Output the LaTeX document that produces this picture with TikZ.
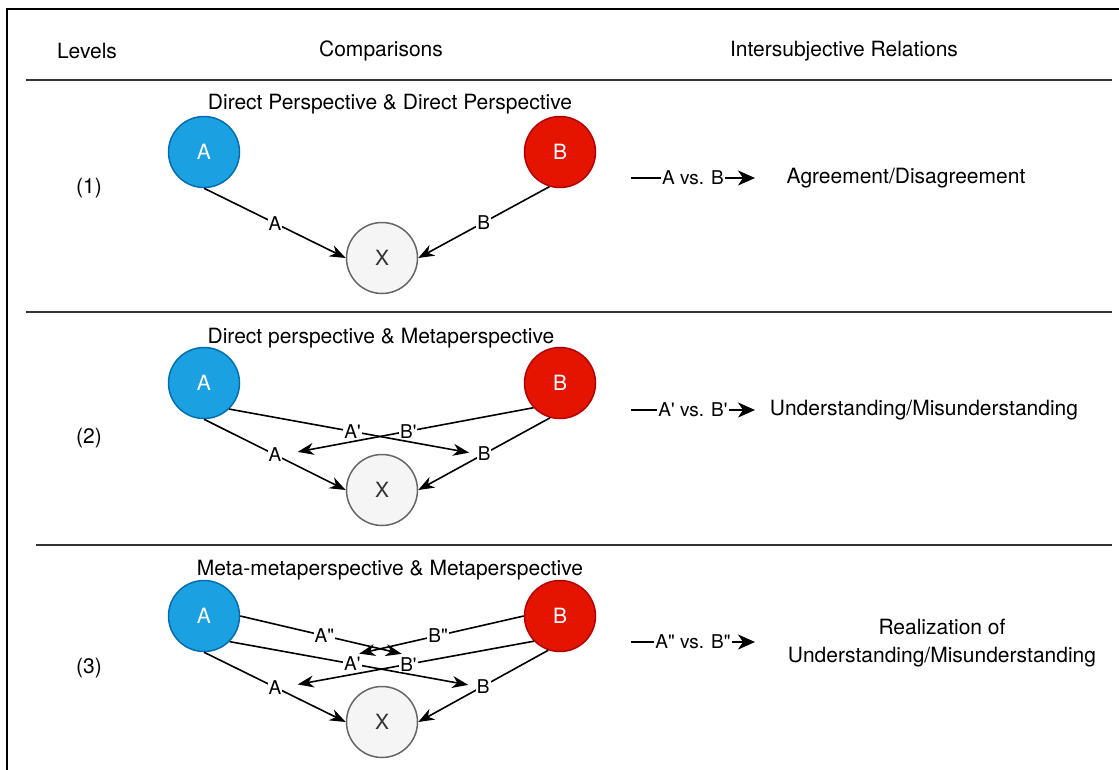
\documentclass[tikz,border=0pt]{standalone}
\usepackage{fontspec}
\setmainfont{TeX Gyre Heros}
\usetikzlibrary{arrows.meta}

\definecolor{fillA}{HTML}{1BA1E2}
\definecolor{drawA}{HTML}{006EAF}
\definecolor{fillB}{HTML}{E51400}
\definecolor{drawB}{HTML}{B20000}
\definecolor{fillX}{HTML}{F5F5F5}
\definecolor{drawX}{HTML}{666666}

\begin{document}
\begin{tikzpicture}[x=1pt, y=-1pt,
	every node/.style={font=\fontsize{21}{28}\selectfont},
	persA/.style={circle, draw=drawA, fill=fillA, line width=1.5pt, minimum size=71pt, inner sep=0pt, text=white},
	persB/.style={circle, draw=drawB, fill=fillB, line width=1.5pt, minimum size=71pt, inner sep=0pt, text=white},
	objX/.style={circle, draw=drawX, fill=fillX, line width=1.5pt, minimum size=71pt, inner sep=0pt, text=black!80},
	lbl/.style={fill=white, inner sep=1pt, font=\fontsize{19}{22}\selectfont},
	link/.style={-{Stealth[length=16pt, width=12pt, inset=5pt]}, line width=1.6pt},
	tolbl/.style={link, shorten >=7pt},
	relarr/.style={-{Stealth[length=17pt, width=15pt, inset=5pt]}, line width=1.6pt},
	sep/.style={line width=2pt, black!80}]
	\useasboundingbox (0,0) rectangle (1119,769);
	\draw[line width=2pt] (7,790) -- (7,9) -- (1130,9);

	\node (levels) at (87,51) {Levels};
	\node (comp) at (381,51) {Comparisons};
	\node (inter) at (844,51) {Intersubjective Relations};

	\draw[sep] (26,80) -- (1112,80);
	\draw[sep] (26,312) -- (1112,312);
	\draw[sep] (36,545) -- (1112,545);

	\node (lev1) at (89,188) {(1)};
	\node (lev2) at (89,438) {(2)};
	\node (lev3) at (89,668) {(3)};

	\node (t1) at (390,104) {Direct Perspective \& Direct Perspective};
	\node[persA] (A1) at (204,152) {A};
	\node[persB] (B1) at (560,152) {B};
	\node[objX] (X1) at (382,258) {X};
	\draw[link] (A1.south) -- node[lbl] (a1) {A} (X1.west);
	\draw[link] (B1.-107) -- node[lbl] (b1) {B} (X1.east);

	\node (t2) at (381,338) {Direct perspective \& Metaperspective};
	\node[persA] (A2) at (204,383) {A};
	\node[persB] (B2) at (560,383) {B};
	\node[objX] (X2) at (382,490) {X};
	\draw[link] (A2.south) -- node[lbl] (a2) {A} (X2.west);
	\draw[link] (B2.-106) -- node[lbl] (b2) {B} (X2.east);
	\draw[tolbl] (A2.-46) -- node[lbl] (ap2) {A\textquotesingle} (b2.west);
	\draw[tolbl, shorten >=15pt] (B2.-137) -- node[lbl] (bp2) {B\textquotesingle} (a2.east);

	\node (t3) at (390,570) {Meta-metaperspective \& Metaperspective};
	\node[persA] (A3) at (204,616) {A};
	\node[persB] (B3) at (560,616) {B};
	\node[objX] (X3) at (382,722) {X};
	\draw[link] (A3.south) -- node[lbl] (a3) {A} (X3.west);
	\draw[link] (B3.-109) -- node[lbl] (b3) {B} (X3.east);
	\draw[tolbl] (A3.-45) -- node[lbl] (ap3) {A\textquotesingle} (b3.west);
	\draw[tolbl, shorten >=15pt] (B3.-136) -- node[lbl] (bp3) {B\textquotesingle} (a3.east);
	\draw[tolbl] (A3.east) -- node[lbl] (app3) {A\textquotedbl} (bp3.north);
	\draw[tolbl] (B3.west) -- node[lbl] (bpp3) {B\textquotedbl} (ap3.north);

	\coordinate (s1) at (631,178);
	\coordinate (e1) at (755,178);
	\draw[relarr] (s1) -- node[lbl] (v1) {A vs. B} (e1);
	\node (rel1) at (906,178) {Agreement/Disagreement};

	\coordinate (s2) at (631,410);
	\coordinate (e2) at (755,410);
	\draw[relarr] (s2) -- node[lbl] (v2) {A\textquotesingle{} vs. B\textquotesingle} (e2);
	\node (rel2) at (924,410) {Understanding/Misunderstanding};

	\coordinate (s3) at (631,642);
	\coordinate (e3) at (755,642);
	\draw[relarr] (s3) -- node[lbl] (v3) {A\textquotedbl{} vs. B\textquotedbl} (e3);
	\node[align=center] (rel3) at (942,643) {Realization of\\Understanding/Misunderstanding};
\end{tikzpicture}
\end{document}
